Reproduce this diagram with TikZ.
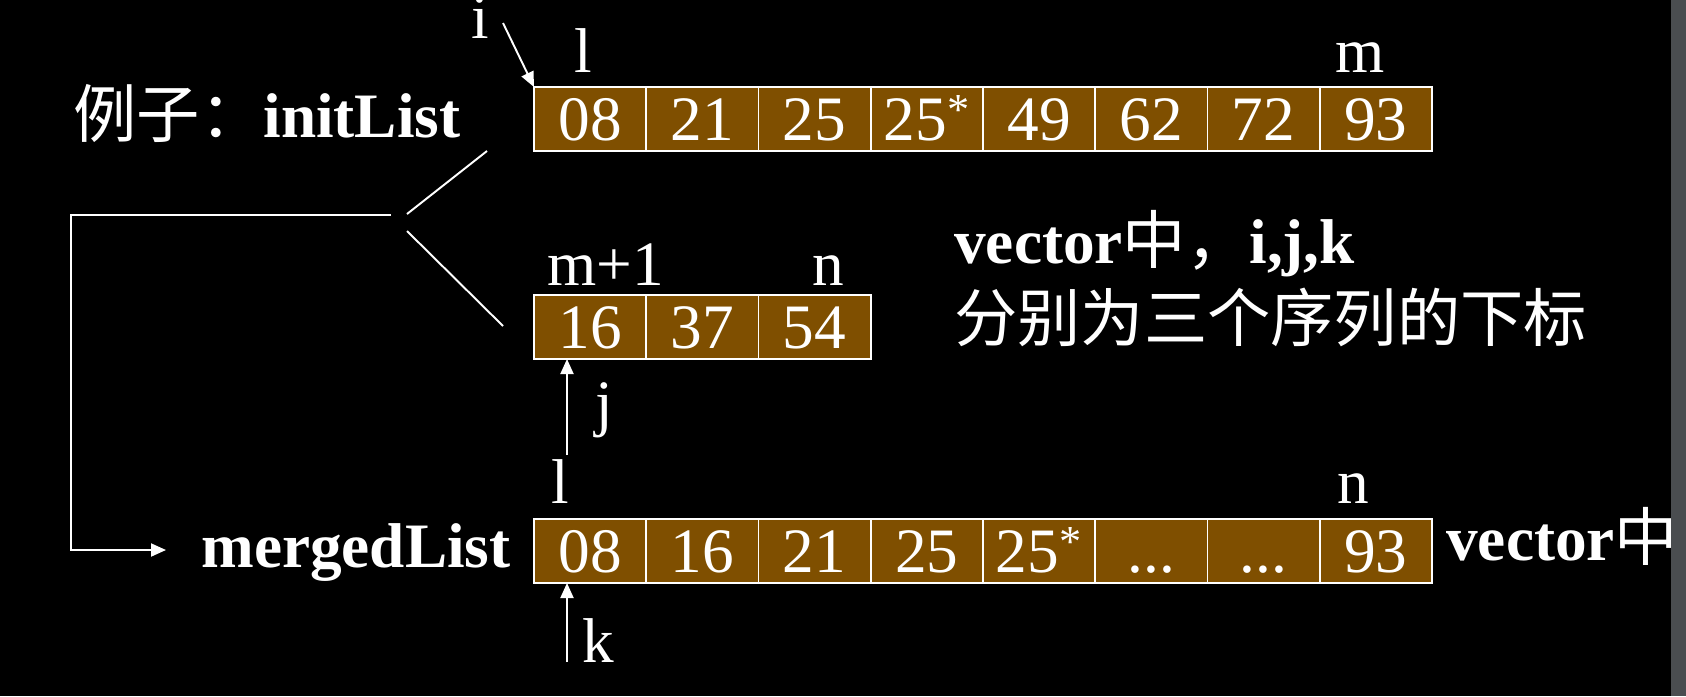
\documentclass[tikz,border=0pt]{standalone}
\usepackage{fontspec}
\setmainfont{Liberation Serif}
\newfontfamily\cjk{Noto Sans CJK SC}
\usetikzlibrary{arrows.meta}
\begin{document}
\begin{tikzpicture}[x=0.2mm,y=-0.2mm]
\newcommand{\cellw}{22.45mm}
\newcommand{\cellh}{12.8mm}
\newcommand{\bigfont}{\fontsize{36}{40}\selectfont}
\definecolor{cellcolor}{RGB}{127,79,0}
\definecolor{edgecolor}{RGB}{74,77,80}
\tikzstyle{cell}=[draw=white,line width=1.1pt,fill=cellcolor,minimum width=\cellw,minimum height=\cellh,inner sep=0pt,outer sep=0pt,text=white,font=\bigfont,text height=24pt,text depth=0pt]
\tikzstyle{tag}=[inner sep=0pt,anchor=base,text=white,font=\bigfont]
\tikzstyle{wire}=[draw=white,line width=1.1pt]
\tikzstyle{pointer}=[wire,-{Triangle[length=3mm,width=2.6mm]}]
\fill[black] (0,0) rectangle (1686,696);
\useasboundingbox (0,0) rectangle (1686,696);
\node[cell] (init1) at (590.1,119) {08};
\node[cell] (init2) at (702.4,119) {21};
\node[cell] (init3) at (814.6,119) {25};
\node[cell] (init4) at (926.9,119) {25\textsuperscript{*}};
\node[cell] (init5) at (1039.1,119) {49};
\node[cell] (init6) at (1151.4,119) {62};
\node[cell] (init7) at (1263.6,119) {72};
\node[cell] (init8) at (1375.9,119) {93};
\node[cell] (seq1) at (590.1,327) {16};
\node[cell] (seq2) at (702.4,327) {37};
\node[cell] (seq3) at (814.6,327) {54};
\node[cell] (merged1) at (590.1,551) {08};
\node[cell] (merged2) at (702.4,551) {16};
\node[cell] (merged3) at (814.6,551) {21};
\node[cell] (merged4) at (926.9,551) {25};
\node[cell] (merged5) at (1039.1,551) {25\textsuperscript{*}};
\node[cell] (merged6) at (1151.4,551) {...};
\node[cell] (merged7) at (1263.6,551) {...};
\node[cell] (merged8) at (1375.9,551) {93};
\node[tag] (ilab) at (480,38) {i};
\node[tag] (lfirst) at (583,72) {l};
\node[tag] (mlast) at (1360,72) {m};
\node[tag] (mnext) at (606,285) {m+1};
\node[tag] (nseq) at (828,285) {n};
\node[tag] (jlab) at (604,424) {j};
\node[tag] (lmerged) at (560,503) {l};
\node[tag] (nmerged) at (1353,503) {n};
\node[tag] (klab) at (598,662) {k};
\node[tag] (initname) at (267,137) {{\cjk 例子：}\textbf{initList}};
\node[tag] (mergedname) at (356,567) {\textbf{mergedList}};
\node[tag,anchor=base west] (noteone) at (954,263) {\textbf{vector}{\cjk 中，}\textbf{i,j,k}};
\node[tag,anchor=base west] (notetwo) at (954,341) {\cjk 分别为三个序列的下标};
\node[tag,anchor=base west] (notethree) at (1446,560) {\textbf{vector}{\cjk 中}};
\coordinate (splitup) at (487,151);
\coordinate (splitmid) at (407,214);
\coordinate (splitlow) at (407,231);
\coordinate (splitend) at (503,326);
\coordinate (bendtop) at (391,215);
\coordinate (loopA) at (71,215);
\coordinate (loopB) at (71,550);
\coordinate (mergein) at (166,550);
\coordinate (itail) at (503,23);
\coordinate (jtail) at (567,455);
\coordinate (ktail) at (567,662);
\draw[wire] (splitup) -- (splitmid);
\draw[wire] (splitlow) -- (splitend);
\draw[pointer] (bendtop) -- (loopA) -- (loopB) -- (mergein);
\draw[pointer] (itail) -- (init1.north west);
\draw[pointer] (jtail) -- (jtail |- seq1.south);
\draw[pointer] (ktail) -- (ktail |- merged1.south);
\fill[edgecolor] (1671,0) rectangle (1686,696);
\end{tikzpicture}
\end{document}
